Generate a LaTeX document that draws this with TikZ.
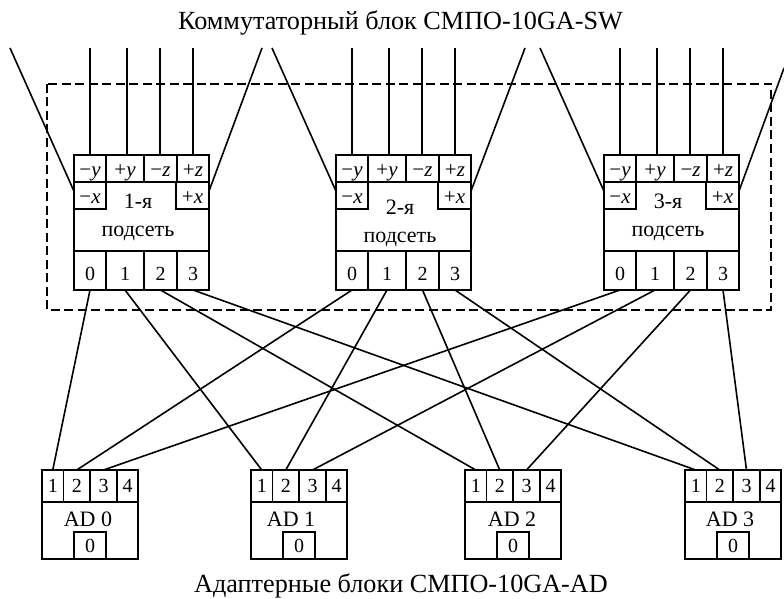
\documentclass[tikz,border=0pt]{standalone}
\usepackage{fontspec}
\setmainfont{Liberation Serif}
\tikzset{
  portbox/.style={draw,rectangle,line width=1.6pt,inner sep=0pt,outer sep=0pt,text height=13.5pt,text depth=0pt,font=\fontsize{20}{22}\selectfont},
  signbox/.style={portbox,text height=15pt,font=\fontsize{21}{22}\selectfont},
  wire/.style={line width=1.6pt},
  lbl/.style={inner sep=0pt,align=center,font=\fontsize{22}{27.5}\selectfont},
  caption/.style={inner sep=0pt,anchor=base,font=\fontsize{26.2}{28}\selectfont}
}
\begin{document}
\begin{tikzpicture}[x=1pt,y=-1pt]
\useasboundingbox (0,0) rectangle (784,599);
\node[caption] (swtitle) at (400.5,30) {Коммутаторный блок СМПО-10GA-SW};
\node[caption] (adtitle) at (401,592) {Адаптерные блоки СМПО-10GA-AD};
\draw[wire,dash pattern=on 9pt off 4.5pt] (47,84) rectangle (771,310);
% subnets
\foreach \s/\ox/\ty/\tt in {1/74/217.5/1-я,2/336/223.5/2-я,3/604/217.5/3-я}{
  \node[portbox,minimum width=135pt,minimum height=135pt] (s\s) at (\ox+67.5,222.5) {};
  \node[lbl] (s\s t) at (\ox+64,\ty) {\tt\\подсеть};
  \foreach \n/\p/\w/\dx/\l in {ym/0/32/0/−\textit{y},yp/32/38/2/+\textit{y},zm/70/33/-0.5/−\textit{z},zp/103/32/0/+\textit{z}}{
    \node[signbox,minimum width=\w pt,minimum height=27pt] (s\s\n) at (\ox+\p+\w/2,168.5) {\l};
    \coordinate (c\s\n) at (\ox+\p+\w/2+\dx,48);
    \draw[wire] (c\s\n) -- (c\s\n |- s\s\n.north);
  }
  \node[signbox,minimum width=32pt,minimum height=27pt] (s\s xm) at (\ox+16,195.5) {−\textit{x}};
  \node[signbox,minimum width=33pt,minimum height=27pt] (s\s xp) at (\ox+118.5,195.5) {+\textit{x}};
  \foreach \n/\p/\w in {0/0/32,1/32/38,2/70/33,3/103/32}
    \node[portbox,text height=19pt,minimum width=\w pt,minimum height=39pt] (s\s p\n) at (\ox+\p+\w/2,270.5) {\n};
}
% adapters
\foreach \a/\ox/\lx in {0/42/46,1/251/40,2/465/47,3/685/45}{
  \node[portbox,minimum width=96pt,minimum height=89pt] (ad\a) at (\ox+48,514.5) {};
  \foreach \n/\p/\w in {1/0/21.5,2/21.5/26.5,3/48/27,4/75/21}
    \node[portbox,minimum width=\w pt,minimum height=32pt] (ad\a p\n) at (\ox+\p+\w/2,486) {\n};
  \node[lbl] (ad\a t) at (\ox+\lx,519) {AD \a};
  \node[portbox,minimum width=32pt,minimum height=27pt] (ad\a in) at (\ox+48,545.5) {0};
}
% outer links
\coordinate (e1l) at (10,48);
\coordinate (e1r) at (262,48);
\coordinate (e2l) at (272,48);
\coordinate (e2r) at (525,48);
\coordinate (e3l) at (540,48);
\coordinate (e3r) at (784,68);
\foreach \s in {1,2,3}{
  \draw[wire] (e\s l) -- (s\s xm.165);
  \draw[wire] (e\s r) -- (s\s xp.15);
}
% links to adapters
\foreach \a/\b in {s1p0/ad0p1,s1p1/ad1p1,s1p2/ad2p1,s1p3/ad3p1,s2p0/ad0p2,s2p1/ad1p2,s2p2/ad2p2,s2p3/ad3p2,s3p0/ad0p3,s3p1/ad1p3,s3p2/ad2p3,s3p3/ad3p3}
  \draw[wire] (\a.south)--(\b.north);
\end{tikzpicture}
\end{document}
